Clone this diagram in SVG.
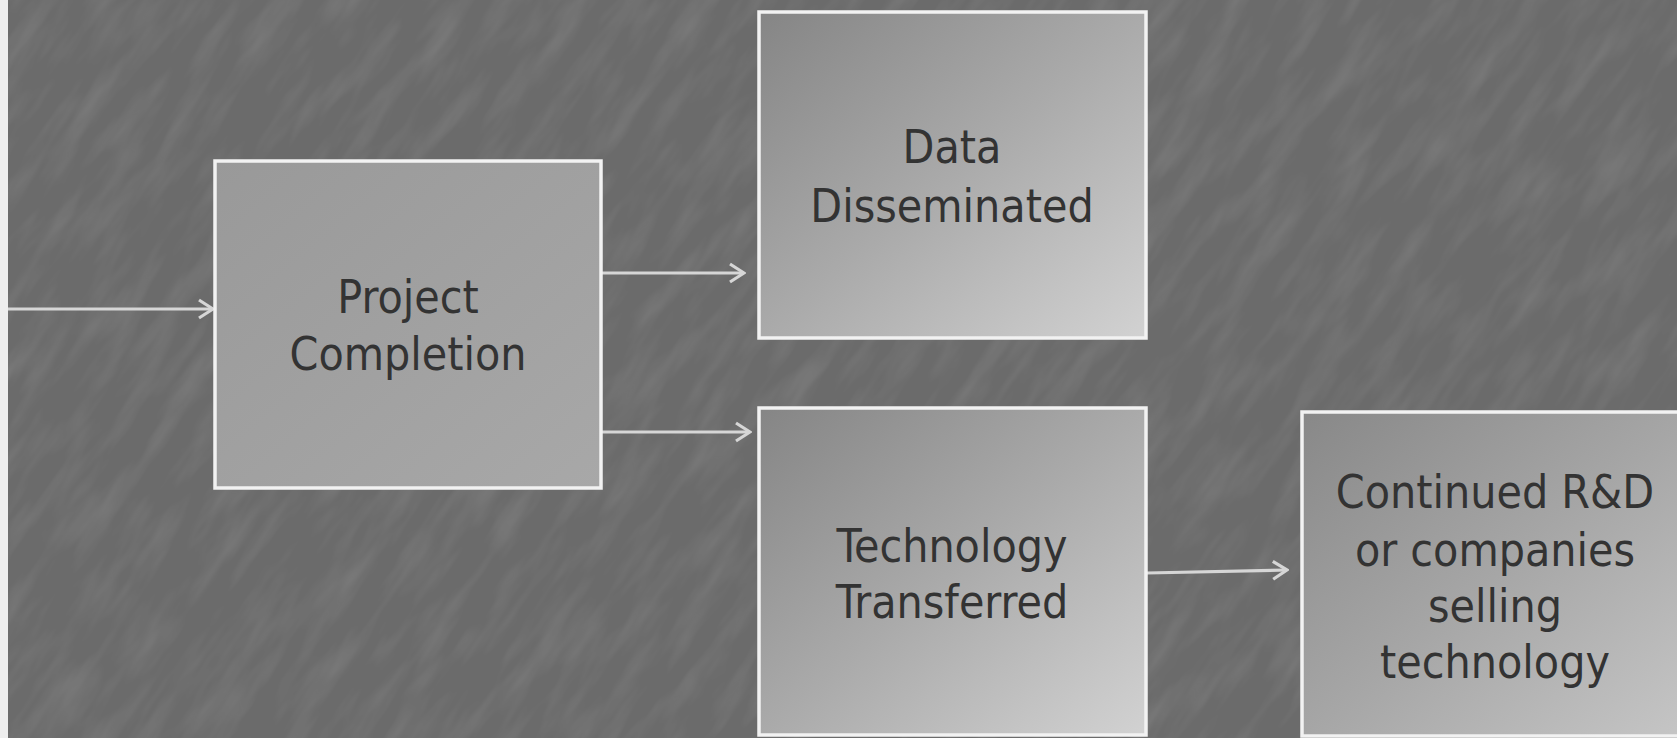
<svg xmlns="http://www.w3.org/2000/svg" width="1677" height="738" viewBox="0 0 1677 738">
<style>
.box{stroke:#f2f2f2;stroke-width:3.5}
.lbl{font-family:"DejaVu Sans Condensed","DejaVu Sans",sans-serif;font-size:46px;fill:#333333;text-anchor:middle}
.conn{stroke:#d6d6d6;stroke-width:3.2;fill:none;marker-end:url(#ah)}
</style>
<defs>
<marker id="ah" viewBox="0 0 18 22" refX="16" refY="11" markerWidth="18" markerHeight="22" markerUnits="userSpaceOnUse" orient="auto">
<path d="M2,2 L16,11 L2,20" fill="none" stroke="#d6d6d6" stroke-width="3.2"/>
</marker>
<filter id="noise" x="0" y="0" width="100%" height="100%">
<feTurbulence type="fractalNoise" baseFrequency="0.012 0.05" numOctaves="3" seed="7"/>
<feColorMatrix type="matrix" values="0 0 0 0 1  0 0 0 0 1  0 0 0 0 1  0 0 0 0.5 -0.2"/>
</filter>
<linearGradient id="g1" x1="0" y1="0" x2="1" y2="1">
<stop offset="0" stop-color="#999999"/>
<stop offset="1" stop-color="#a8a8a8"/>
</linearGradient>
<linearGradient id="g2" x1="0" y1="0" x2="1" y2="1">
<stop offset="0" stop-color="#858585"/>
<stop offset="0.5" stop-color="#aaaaaa"/>
<stop offset="1" stop-color="#d2d2d2"/>
</linearGradient>
<linearGradient id="g3" x1="0" y1="0" x2="1" y2="1">
<stop offset="0" stop-color="#888888"/>
<stop offset="0.5" stop-color="#a6a6a6"/>
<stop offset="1" stop-color="#c6c6c6"/>
</linearGradient>
</defs>
<rect x="0" y="0" width="1677" height="738" fill="#6b6b6b"/>
<g transform="rotate(-55 838 369)" opacity="0.35">
<rect x="-400" y="-600" width="2500" height="2000" filter="url(#noise)"/>
</g>
<rect x="0" y="0" width="8" height="738" fill="#eeeeee"/>
<g id="connectors">
<line class="conn" x1="8" y1="309" x2="213" y2="309"/>
<line class="conn" x1="602" y1="273" x2="744" y2="273"/>
<line class="conn" x1="602" y1="432" x2="750" y2="432"/>
<line class="conn" x1="1147" y1="573" x2="1287" y2="570"/>
</g>
<g id="project-completion">
<rect class="box" x="215" y="161" width="386" height="327" fill="url(#g1)"/>
<text class="lbl" x="408" y="313">Project</text>
<text class="lbl" x="408" y="370">Completion</text>
</g>
<g id="data-disseminated">
<rect class="box" x="759" y="12" width="387" height="326" fill="url(#g2)"/>
<text class="lbl" x="952" y="163">Data</text>
<text class="lbl" x="952" y="222">Disseminated</text>
</g>
<g id="technology-transferred">
<rect class="box" x="759" y="408" width="387" height="327" fill="url(#g2)"/>
<text class="lbl" x="952" y="562">Technology</text>
<text class="lbl" x="952" y="618">Transferred</text>
</g>
<g id="continued-rd">
<rect class="box" x="1302" y="412" width="390" height="324" fill="url(#g3)"/>
<text class="lbl" x="1495" y="508">Continued R&amp;D</text>
<text class="lbl" x="1495" y="566">or companies</text>
<text class="lbl" x="1495" y="622">selling</text>
<text class="lbl" x="1495" y="678">technology</text>
</g>
</svg>
